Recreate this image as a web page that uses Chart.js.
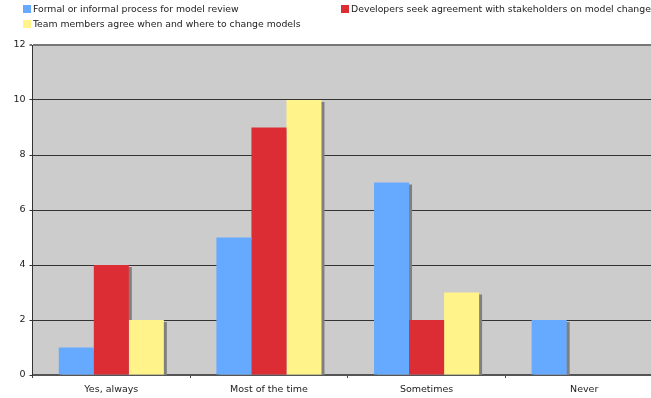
<!DOCTYPE html>
<html>
<head>
<meta charset="utf-8">
<script src="https://cdn.jsdelivr.net/npm/chart.js@4.4.1/dist/chart.umd.min.js"></script>
<style>
  html, body { margin: 0; padding: 0; background: #fff; overflow: hidden; }
  #wrap { position: relative; width: 663px; height: 398px; }
  .legend-item {
    position: absolute;
    font-family: "DejaVu Sans", Verdana, sans-serif;
    font-size: 9.3px;
    color: #222;
    white-space: nowrap;
    line-height: 12px;
  }
  .legend-item i {
    display: inline-block;
    width: 8px;
    height: 8px;
    margin-right: 2px;
    vertical-align: -1px;
  }
</style>
</head>
<body>
<div id="wrap">
  <canvas id="chart"></canvas>
  <div id="legend"></div>
</div>
<script>
// Survey answers per category
const categories = ["Yes, always", "Most of the time", "Sometimes", "Never"];
const seriesNames = [
  "Formal or informal process for model review",
  "Developers seek agreement with stakeholders on model changes",
  "Team members agree when and where to change models"
];
const reviewProcess = [1, 5, 7, 2];
const seekAgreement = [4, 9, 2, 0];
const teamAgree = [2, 10, 3, 0];
const seriesColors = ["#66aaff", "#dd2d34", "#fff38a"];

const yTicks = [0, 2, 4, 6, 8, 10, 12];

// legend laid out in two rows, top-left
const legendSpots = [
  { left: 23, top: 3 },
  { left: 341, top: 3 },
  { left: 23, top: 18 }
];
const legendBox = document.getElementById("legend");
seriesNames.forEach((name, i) => {
  const item = document.createElement("div");
  item.className = "legend-item";
  item.style.left = legendSpots[i].left + "px";
  item.style.top = legendSpots[i].top + "px";
  item.innerHTML = `<i style="background:${seriesColors[i]}"></i>${name}`;
  legendBox.appendChild(item);
});

// grey plot background + drop shadows under the bars
const plotDecor = {
  id: "plotDecor",
  beforeDraw(chart) {
    const { ctx, chartArea: a } = chart;
    ctx.save();
    ctx.fillStyle = "#cccccc";
    ctx.fillRect(a.left, a.top, a.right - a.left, a.bottom - a.top);
    ctx.restore();
  },
  beforeDatasetsDraw(chart) {
    const { ctx, chartArea: a } = chart;
    ctx.save();
    ctx.beginPath();
    ctx.rect(a.left, a.top, a.right - a.left, a.bottom - a.top);
    ctx.clip();
    ctx.fillStyle = "#808080";
    chart.getSortedVisibleDatasetMetas().forEach(meta => {
      meta.data.forEach(bar => {
        const h = bar.base - bar.y;
        if (h <= 0) return;
        ctx.fillRect(bar.x - bar.width / 2 + 3, bar.y + 2, bar.width, h);
      });
    });
    ctx.restore();
  }
};

const tickFont = { family: "'DejaVu Sans', Verdana, sans-serif", size: 9.5 };

new Chart(document.getElementById("chart"), {
  type: "bar",
  data: {
    labels: categories,
    datasets: [reviewProcess, seekAgreement, teamAgree].map((vals, i) => ({
      label: seriesNames[i],
      data: vals,
      backgroundColor: seriesColors[i],
      borderWidth: 0,
      categoryPercentage: 0.6667,
      barPercentage: 1
    }))
  },
  options: {
    responsive: true,
    maintainAspectRatio: false,
    animation: false,
    layout: { padding: { top: 45, left: 0, right: 0, bottom: 0 } },
    plugins: {
      legend: { display: false },
      tooltip: { enabled: false }
    },
    scales: {
      x: {
        afterFit(scale) { scale.height = 23; },
        grid: {
          offset: true,
          drawOnChartArea: false,
          color: "#444",
          tickLength: 3
        },
        border: { color: "#555", width: 2 },
        ticks: { font: tickFont, color: "#222", padding: 6 }
      },
      y: {
        min: 0,
        max: 12,
        afterFit(scale) { scale.width = 32.5; },
        afterBuildTicks(scale) { scale.ticks = yTicks.map(v => ({ value: v })); },
        grid: {
          color: ctx => ctx.tick && ctx.tick.value === 12 ? "#777" : "#333",
          lineWidth: ctx => ctx.tick && ctx.tick.value === 12 ? 2 : 1,
          tickLength: 3
        },
        border: { color: "#333", width: 1 },
        ticks: { font: tickFont, color: "#222", padding: 4 }
      }
    }
  },
  plugins: [plotDecor]
});
</script>
</body>
</html>
